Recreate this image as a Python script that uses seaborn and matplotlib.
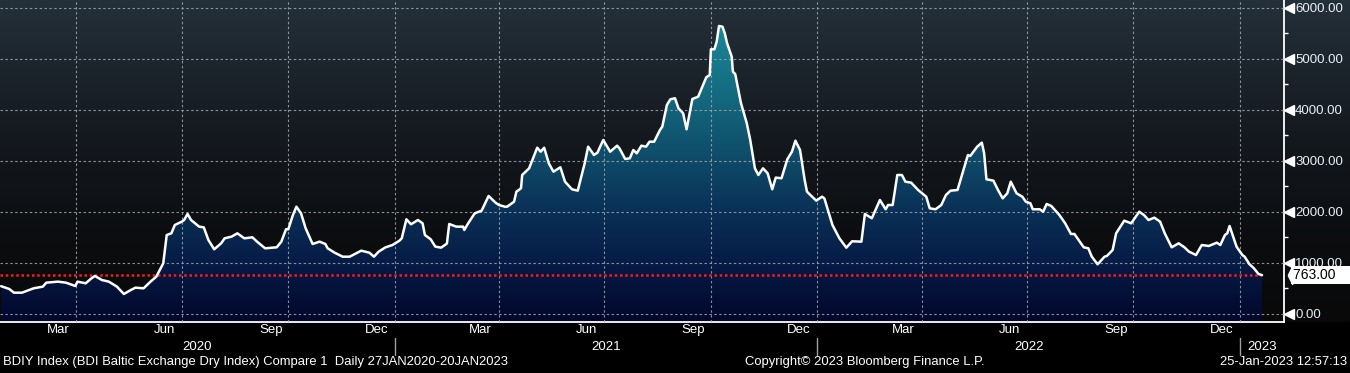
import numpy as np
import pandas as pd
import matplotlib.pyplot as plt
import matplotlib.dates as mdates
import seaborn as sns
from matplotlib.colors import LinearSegmentedColormap
from matplotlib.ticker import MultipleLocator, FuncFormatter
from matplotlib.transforms import blended_transform_factory

sns.set_style('dark')
plt.rcParams['font.family'] = ['Liberation Sans', 'DejaVu Sans']

# BDI 指数
dates = [
    '2020-01-27', '2020-02-03', '2020-02-07', '2020-02-14', '2020-02-24', '2020-03-03', '2020-03-06',
    '2020-03-16', '2020-03-23', '2020-03-31', '2020-04-02', '2020-04-09', '2020-04-14', '2020-04-17',
    '2020-04-23', '2020-04-29', '2020-05-06', '2020-05-12', '2020-05-18', '2020-05-22', '2020-05-29',
    '2020-06-04', '2020-06-09', '2020-06-15', '2020-06-18', '2020-06-22', '2020-06-25', '2020-07-01',
    '2020-07-03', '2020-07-06', '2020-07-09', '2020-07-16', '2020-07-20', '2020-07-24', '2020-07-29',
    '2020-08-04', '2020-08-07', '2020-08-13', '2020-08-18', '2020-08-24', '2020-08-31', '2020-09-04',
    '2020-09-11', '2020-09-21', '2020-09-25', '2020-09-29', '2020-10-01', '2020-10-05', '2020-10-08',
    '2020-10-12', '2020-10-16', '2020-10-22', '2020-10-28', '2020-11-02', '2020-11-04', '2020-11-10',
    '2020-11-17', '2020-11-23', '2020-12-03', '2020-12-10', '2020-12-14', '2020-12-18', '2020-12-24',
    '2020-12-30', '2021-01-05', '2021-01-07', '2021-01-11', '2021-01-15', '2021-01-21', '2021-01-25',
    '2021-01-27', '2021-02-01', '2021-02-05', '2021-02-10', '2021-02-15', '2021-02-17', '2021-02-23',
    '2021-03-01', '2021-03-02', '2021-03-05', '2021-03-11', '2021-03-17', '2021-03-23', '2021-03-29',
    '2021-04-01', '2021-04-06', '2021-04-08', '2021-04-14', '2021-04-16', '2021-04-20', '2021-04-21',
    '2021-04-27', '2021-05-04', '2021-05-07', '2021-05-10', '2021-05-14', '2021-05-18', '2021-05-24',
    '2021-05-28', '2021-06-03', '2021-06-08', '2021-06-14', '2021-06-17', '2021-06-22', '2021-06-25',
    '2021-06-30', '2021-07-06', '2021-07-12', '2021-07-14', '2021-07-19', '2021-07-23', '2021-07-26',
    '2021-07-29', '2021-08-02', '2021-08-06', '2021-08-09', '2021-08-13', '2021-08-18', '2021-08-20',
    '2021-08-24', '2021-08-27', '2021-08-31', '2021-09-03', '2021-09-07', '2021-09-10', '2021-09-15',
    '2021-09-20', '2021-09-27', '2021-09-30', '2021-10-01', '2021-10-04', '2021-10-06', '2021-10-08',
    '2021-10-11', '2021-10-13', '2021-10-15', '2021-10-19', '2021-10-20', '2021-10-22', '2021-10-27',
    '2021-11-01', '2021-11-04', '2021-11-08', '2021-11-11', '2021-11-15', '2021-11-19', '2021-11-23',
    '2021-11-26', '2021-12-01', '2021-12-06', '2021-12-10', '2021-12-13', '2021-12-17', '2021-12-21',
    '2021-12-23', '2021-12-31', '2022-01-05', '2022-01-07', '2022-01-14', '2022-01-20', '2022-01-26',
    '2022-01-31', '2022-02-08', '2022-02-11', '2022-02-17', '2022-02-24', '2022-03-01', '2022-03-03',
    '2022-03-07', '2022-03-11', '2022-03-15', '2022-03-18', '2022-03-23', '2022-03-29', '2022-04-05',
    '2022-04-08', '2022-04-13', '2022-04-18', '2022-04-22', '2022-04-26', '2022-05-02', '2022-05-05',
    '2022-05-11', '2022-05-13', '2022-05-19', '2022-05-23', '2022-05-25', '2022-05-27', '2022-06-02',
    '2022-06-06', '2022-06-10', '2022-06-14', '2022-06-17', '2022-06-22', '2022-06-27', '2022-06-30',
    '2022-07-04', '2022-07-06', '2022-07-12', '2022-07-15', '2022-07-18', '2022-07-22', '2022-07-29',
    '2022-08-03', '2022-08-08', '2022-08-11', '2022-08-15', '2022-08-19', '2022-08-23', '2022-08-26',
    '2022-08-31', '2022-09-06', '2022-09-08', '2022-09-13', '2022-09-16', '2022-09-20', '2022-09-23',
    '2022-09-29', '2022-10-06', '2022-10-10', '2022-10-14', '2022-10-19', '2022-10-24', '2022-10-28',
    '2022-11-03', '2022-11-09', '2022-11-14', '2022-11-18', '2022-11-24', '2022-11-29', '2022-12-05',
    '2022-12-12', '2022-12-15', '2022-12-19', '2022-12-21', '2022-12-23', '2022-12-29', '2023-01-03',
    '2023-01-05', '2023-01-09', '2023-01-13', '2023-01-17', '2023-01-20',
]
bdi = [
    545, 490, 418, 418, 503, 536, 614,
    634, 614, 549, 634, 601, 699, 745,
    666, 634, 536, 392, 470, 516, 503,
    634, 732, 993, 1548, 1581, 1744, 1810,
    1842, 1960, 1842, 1712, 1698, 1450, 1268,
    1385, 1483, 1516, 1581, 1483, 1503, 1418,
    1287, 1307, 1418, 1660, 1660, 1940, 2103,
    1973, 1679, 1372, 1418, 1372, 1287, 1202,
    1123, 1123, 1241, 1202, 1123, 1221, 1307,
    1352, 1437, 1483, 1856, 1758, 1842, 1777,
    1548, 1464, 1320, 1300, 1380, 1764, 1712,
    1712, 1646, 1764, 1973, 2025, 2313, 2182,
    2136, 2103, 2103, 2201, 2397, 2463, 2724,
    2855, 3259, 3181, 3259, 2953, 2789, 2875,
    2593, 2444, 2417, 2953, 3279, 3116, 3162,
    3410, 3181, 3299, 3248, 3038, 3052, 3214,
    3150, 3299, 3279, 3377, 3377, 3606, 3671,
    4096, 4208, 4228, 4032, 3934, 3620, 4214,
    4259, 4639, 4684, 5188, 5188, 5337, 5645,
    5631, 5502, 5306, 5043, 4749, 4704, 4130,
    3738, 3410, 2855, 2724, 2855, 2758, 2444,
    2673, 2660, 3032, 3181, 3397, 3214, 2626,
    2397, 2221, 2299, 2267, 1744, 1483, 1300,
    1425, 1418, 1960, 1876, 2234, 2052, 2136,
    2136, 2724, 2724, 2593, 2574, 2430, 2299,
    2071, 2052, 2136, 2332, 2417, 2430, 2660,
    3116, 3097, 3279, 3358, 3150, 2640, 2613,
    2430, 2267, 2365, 2593, 2365, 2299, 2201,
    2169, 2052, 2052, 2005, 2156, 2117, 1940,
    1777, 1568, 1568, 1437, 1307, 1287, 1123,
    974, 1123, 1137, 1254, 1581, 1725, 1829,
    1777, 2005, 1940, 1842, 1888, 1810, 1581,
    1307, 1385, 1307, 1221, 1156, 1352, 1333,
    1398, 1352, 1548, 1581, 1725, 1320, 1156,
    1123, 980, 896, 784, 763,
]
last_value = 763
y_ticks = [0, 1000, 2000, 3000, 4000, 5000, 6000]
x_start, x_end = '2020-01-26', '2023-02-08'
y_min, y_max = -157, 6154
label_months = [3, 6, 9, 12]
month_names = ['Mar', 'Jun', 'Sep', 'Dec']
years = [2020, 2021, 2022, 2023]
footer_left = 'BDIY Index (BDI Baltic Exchange Dry Index) Compare 1  Daily 27JAN2020-20JAN2023'
footer_mid = 'Copyright\u00a9 2023 Bloomberg Finance L.P.'
footer_right = '25-Jan-2023 12:57:13'

df = pd.DataFrame({'date': pd.to_datetime(dates), 'value': bdi})

W, H = 1350, 373
fig = plt.figure(figsize=(W / 100, H / 100), dpi=100, facecolor='black')
ax_bottom = 51 / H
ax_right = 1284 / W

# 背景渐变
bg = fig.add_axes([0, ax_bottom, 1, 1 - ax_bottom], zorder=0)
bg_cmap = LinearSegmentedColormap.from_list(
    'bg', [(0, '#090909'), (0.25, '#0b0d0f'), (0.6, '#151a20'), (1, '#24303a')])
bg.imshow(np.linspace(0, 1, 256).reshape(-1, 1), aspect='auto', cmap=bg_cmap,
          origin='lower', extent=[0, 1, 0, 1])
bg.set_axis_off()

ax = fig.add_axes([0, ax_bottom, ax_right, 1 - ax_bottom], zorder=1)
ax.patch.set_alpha(0)

x0 = mdates.date2num(pd.Timestamp(x_start))
x1 = mdates.date2num(pd.Timestamp(x_end))

# 面积渐变填充
poly = ax.fill_between(df['date'], df['value'], y_min, facecolor='none', edgecolor='none')
fill_cmap = LinearSegmentedColormap.from_list(
    'fill', [(0, '#03072c'), (0.18, '#061b45'), (0.35, '#0a3157'),
             (0.52, '#0f4d6a'), (0.7, '#14697f'), (0.9, '#1a8596'), (1, '#1c8d9e')])
im = ax.imshow(np.linspace(0, 1, 256).reshape(-1, 1), aspect='auto', cmap=fill_cmap,
               origin='lower', extent=[x0, x1, y_min, y_max], zorder=1)
im.set_clip_path(poly.get_paths()[0], transform=ax.transData)

sns.lineplot(data=df, x='date', y='value', ax=ax, color='white', linewidth=1.8,
             zorder=4, estimator=None, sort=False, legend=False)

# 最新值红色虚线
ax.hlines(last_value, x0, df['date'].iloc[-1], colors='#ff1a1a', linewidth=1.8,
          linestyles=(0, (1, 1.1)), zorder=3.5)

ax.set_xlim(x0, x1)
ax.set_ylim(y_min, y_max)
ax.set_xlabel('')
ax.set_ylabel('')

# 网格与刻度
ax.set_yticks(y_ticks)
ax.yaxis.set_minor_locator(MultipleLocator(500))
ax.yaxis.set_major_formatter(FuncFormatter(lambda v, _: f'{v:.2f}'))
ax.xaxis.set_major_locator(mdates.MonthLocator(bymonth=[1, 4, 7, 10]))
ax.xaxis.set_minor_locator(mdates.MonthLocator())
ax.set_axisbelow(False)
ax.grid(True, which='major', color='#a0a6ac', linestyle=(0, (2.2, 2.2)), linewidth=0.8, alpha=0.85)
ax.tick_params(axis='x', which='both', direction='out', length=3, width=1,
               color='white', labelbottom=False)
ax.yaxis.tick_right()
ax.tick_params(axis='y', which='major', length=0, pad=8, labelsize=9.5, labelcolor='#e8eef6')
ax.tick_params(axis='y', which='minor', direction='out', length=3, width=1, color='white')
for s in ['left', 'top']:
    ax.spines[s].set_visible(False)
for s in ['bottom', 'right']:
    ax.spines[s].set_color('white')
    ax.spines[s].set_linewidth(1.3)

trans_ay = blended_transform_factory(ax.transAxes, ax.transData)
ax.plot(np.full(len(y_ticks), 1 + 5 / 1284), y_ticks, marker='<', ls='none', color='white',
        ms=6.5, transform=trans_ay, clip_on=False, zorder=5)

# 最新值标签
tri = [(-0.25, 0), (0.25, 1), (0.25, -1), (-0.25, 0)]
ax.plot([1 + 5.5 / 1284], [last_value], marker=tri, ms=13, color='white', ls='none',
        transform=trans_ay, clip_on=False, zorder=6)
ax.text(1 + 9 / 1284, last_value, f'{last_value:.2f}    ', transform=trans_ay, ha='left',
        va='center', fontsize=10, color='black', zorder=7,
        bbox=dict(boxstyle='square,pad=0.15', fc='white', ec='none'))

# 月份与年份标签
trans_xf = blended_transform_factory(ax.transData, fig.transFigure)
for year in years:
    for m, name in zip(label_months, month_names):
        mid = pd.Timestamp(year, m, 1) + pd.Timedelta(days=15)
        if x0 <= mdates.date2num(mid) <= x1:
            ax.text(mid, 1 - 330 / H, name, transform=trans_xf, ha='center', va='center',
                    fontsize=9.5, color='white')
    lo = max(mdates.date2num(pd.Timestamp(year, 1, 1)), x0)
    hi = min(mdates.date2num(pd.Timestamp(year + 1, 1, 1)), x1)
    ax.text((lo + hi) / 2, 1 - 347 / H, str(year), transform=trans_xf, ha='center',
            va='center', fontsize=9.5, color='white')
for year in years[1:]:
    jan = pd.Timestamp(year, 1, 1)
    ax.plot([jan, jan], [1 - 338 / H, 1 - 355 / H], transform=trans_xf, color='#a0a0a0',
            lw=1, clip_on=False)

fig.text(3 / W, 1 - 362 / H, footer_left, ha='left', va='center', fontsize=9.4, color='white')
fig.text(745 / W, 1 - 362 / H, footer_mid, ha='left', va='center', fontsize=9.4, color='white')
fig.text(1347 / W, 1 - 362 / H, footer_right, ha='right', va='center', fontsize=9.4, color='white')

fig.savefig('out.png', dpi=100, facecolor='black')
